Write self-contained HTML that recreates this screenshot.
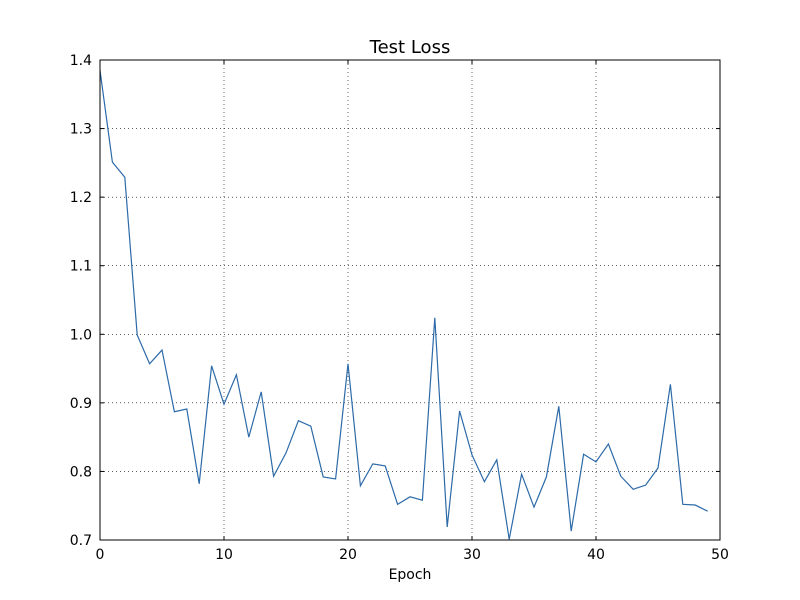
<!DOCTYPE html>
<html><head><meta charset="utf-8"><style>
body{margin:0;background:#fff;}
svg{display:block;font-family:"DejaVu Sans","Liberation Sans",sans-serif;}
</style></head><body>
<svg id="chart" width="800" height="600"></svg>
<script>
const epochs = [0,1,2,3,4,5,6,7,8,9,10,11,12,13,14,15,16,17,18,19,20,21,22,23,24,25,26,27,28,29,30,31,32,33,34,35,36,37,38,39,40,41,42,43,44,45,46,47,48,49];
const lossValues = [1.385,1.251,1.229,0.999,0.957,0.977,0.887,0.891,0.782,0.954,0.898,0.941,0.850,0.916,0.793,0.827,0.874,0.866,0.792,0.789,0.957,0.779,0.811,0.808,0.752,0.763,0.758,1.024,0.719,0.888,0.824,0.785,0.817,0.701,0.796,0.748,0.792,0.895,0.713,0.825,0.814,0.840,0.793,0.774,0.780,0.805,0.927,0.752,0.751,0.742];
const xTicks = [0,10,20,30,40,50];
const yTicks = [0.7,0.8,0.9,1.0,1.1,1.2,1.3,1.4];
const yTickLabels = ["0.7","0.8","0.9","1.0","1.1","1.2","1.3","1.4"];

const L=100,R=720,T=60,B=540;
const xMin=0,xMax=50,yMin=0.7,yMax=1.4;
const sx=v=>L+(v-xMin)/(xMax-xMin)*(R-L);
const sy=v=>B-(v-yMin)/(yMax-yMin)*(B-T);
const svg=document.getElementById('chart');
const NS='http://www.w3.org/2000/svg';
function mk(tag,attrs,parent){const e=document.createElementNS(NS,tag);for(const k in attrs)e.setAttribute(k,attrs[k]);(parent||svg).appendChild(e);return e;}

const grid=mk('g',{});


xTicks.forEach(t=>{const x=sx(t);
 const g=mk('line',{x1:x,x2:x,y1:T,y2:B,stroke:'#000','stroke-width':0.6,'stroke-dasharray':'1,3'},grid);
 
 
 mk('line',{x1:x,x2:x,y1:B,y2:B-4,stroke:'#000'});mk('line',{x1:x,x2:x,y1:T,y2:T+4,stroke:'#000'});
 const tl=mk('text',{x:x,y:B+19,'text-anchor':'middle','font-size':14});tl.textContent=t;
 
 
});
yTicks.forEach((t,i)=>{const y=sy(t);
 const g=mk('line',{x1:L,x2:R,y1:y,y2:y,stroke:'#000','stroke-width':0.6,'stroke-dasharray':'1,3'},grid);
 
 
 mk('line',{x1:L,x2:L+4,y1:y,y2:y,stroke:'#000'});mk('line',{x1:R,x2:R-4,y1:y,y2:y,stroke:'#000'});
 const tl=mk('text',{x:L-8,y:y+5,'text-anchor':'end','font-size':14});tl.textContent=yTickLabels[i];
 
 
});
const line=mk('polyline',{points:epochs.map((e,i)=>sx(e)+','+sy(lossValues[i])).join(' '),fill:'none',stroke:'#2c6aa8','stroke-width':1.2});


const frame=mk('rect',{x:L,y:T,width:R-L,height:B-T,fill:'none',stroke:'#000','stroke-width':1});


const title=mk('text',{x:(L+R)/2,y:53,'text-anchor':'middle','font-size':18});title.textContent='Test Loss';


const xl=mk('text',{x:(L+R)/2,y:579,'text-anchor':'middle','font-size':14});xl.textContent='Epoch';


</script>
</body></html>
